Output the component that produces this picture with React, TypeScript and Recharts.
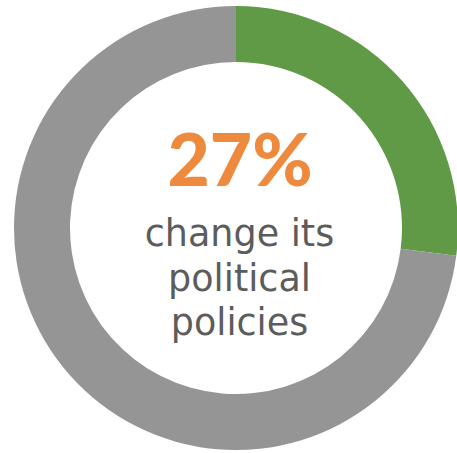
import { PieChart, Pie, Cell } from "recharts";

const categories = ["change its political policies", "other"];
const values = [27, 73];
const colors = ["#619A46", "#959595"];
const headline = "27%";
const captionLines = ["change its", "political", "policies"];

const data = categories.map((name, i) => ({ name, value: values[i] }));

const App = () => {
  return (
    <div style={{ position: "absolute", left: 0, top: 0, width: 457, height: 453, background: "#fff" }}>
      <PieChart width={457} height={453} margin={{ top: 0, right: 0, bottom: 0, left: 0 }}>
        <Pie
          data={data}
          dataKey="value"
          cx={236}
          cy={228}
          innerRadius={166}
          outerRadius={222}
          startAngle={90}
          endAngle={-270}
          stroke="none"
          isAnimationActive={false}
        >
          {data.map((entry, index) => (
            <Cell key={`cell-${entry.name}`} fill={colors[index]} />
          ))}
        </Pie>
      </PieChart>
      <svg width={457} height={453} style={{ position: "absolute", left: 0, top: 0 }}>
        <text
          x={240}
          y={186}
          textAnchor="middle"
          fill="#EE8A3E"
          fontFamily="Lato"
          fontWeight={900}
          fontSize={73}
        >
          {headline}
        </text>
      </svg>
      <div
        style={{
          position: "absolute",
          left: 0,
          width: 479,
          top: 212,
          textAlign: "center",
          color: "#5C5C5C",
          fontFamily: "DejaVu Sans",
          fontSize: 36.5,
          lineHeight: "44.5px",
        }}
      >
        {captionLines.map((line) => (
          <div key={line}>{line}</div>
        ))}
      </div>
    </div>
  );
};

export default App;
